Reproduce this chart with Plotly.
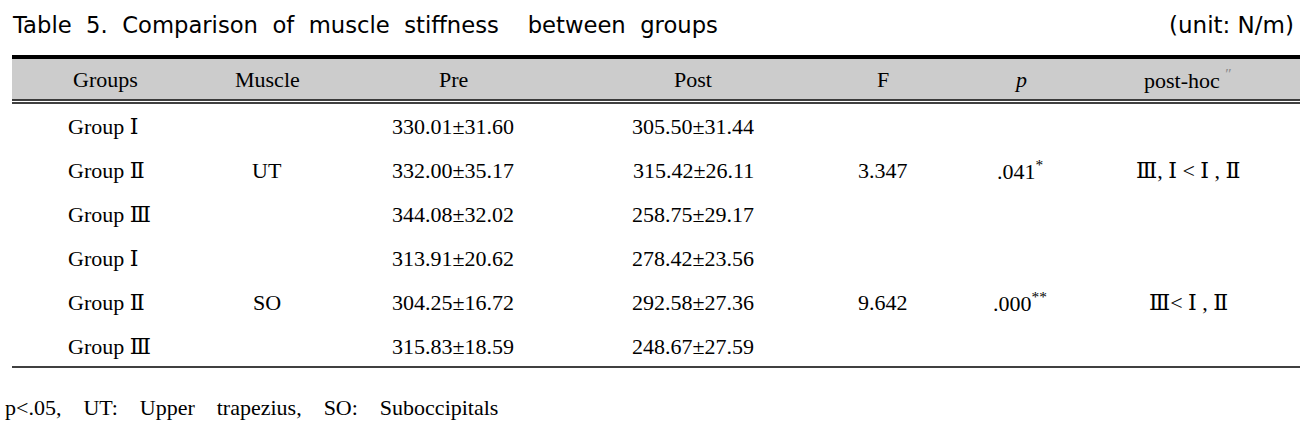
import plotly.graph_objects as go

# ---------------- data ----------------
groups = ["Group Ⅰ", "Group Ⅱ", "Group Ⅲ", "Group Ⅰ", "Group Ⅱ", "Group Ⅲ"]
muscles = ["UT", "SO"]
pre_mean = [330.01, 332.00, 344.08, 313.91, 304.25, 315.83]
pre_sd = [31.60, 35.17, 32.02, 20.62, 16.72, 18.59]
post_mean = [305.50, 315.42, 258.75, 278.42, 292.58, 248.67]
post_sd = [31.44, 26.11, 29.17, 23.56, 27.36, 27.59]
f_values = ["3.347", "9.642"]
p_values = [".041", ".000"]
p_marks = ["*", "**"]
posthoc = ["Ⅲ, Ⅰ &lt; Ⅰ , Ⅱ", "Ⅲ&lt; Ⅰ , Ⅱ"]
headers = ["Groups", "Muscle", "Pre", "Post", "F", "<i>p</i>",
           "post-hoc <span style='color:#888888'><sup>″</sup></span>"]
title_text = "Table 5. Comparison of muscle stiffness  between groups"
unit_text = "(unit: N/m)"
note_text = "p&lt;.05, UT: Upper trapezius, SO: Suboccipitals"

# ---------------- layout constants (page pixels) ----------------
W, H = 1311, 428
col_x = [105, 267, 453, 693, 883, 1020, 1188]      # column centres
group_left = 66
row0_px, row_step = 126, 44                        # row 0 centre and spacing
header_px = 79

SERIF = "Liberation Serif, DejaVu Serif, Times New Roman, serif"
SANS = "DejaVu Sans, sans-serif"
FS = 22


def px_to_row(p):
    return (p - row0_px) / row_step


fig = go.Figure()
fig.add_trace(go.Scatter(x=[0, W], y=[0, 0], mode="markers",
                         marker=dict(opacity=0), hoverinfo="skip", showlegend=False))

# table rules
L, R = 12, 1300
fig.add_shape(type="rect", xref="x", yref="y", x0=L, x1=R,
              y0=px_to_row(58), y1=px_to_row(99.5), fillcolor="#cccccc",
              line_width=0, layer="below")
for ypx, w in [(57, 4), (100, 1.5), (103, 1.5), (367, 1.5)]:
    fig.add_shape(type="line", xref="x", yref="y", x0=L, x1=R,
                  y0=px_to_row(ypx), y1=px_to_row(ypx), line=dict(color="black", width=w))


def txt(x, y, s, anchor="center", font=SERIF, size=FS):
    fig.add_annotation(x=x, y=y, xref="x", yref="y", text=s, showarrow=False,
                       xanchor=anchor, yanchor="middle",
                       font=dict(family=font, size=size, color="black"))


for cx, h in zip(col_x, headers):
    txt(cx, px_to_row(header_px), h)

for i in range(len(groups)):
    txt(group_left, i, groups[i], anchor="left")
    txt(col_x[2], i, f"{pre_mean[i]:.2f}±{pre_sd[i]:.2f}")
    txt(col_x[3], i, f"{post_mean[i]:.2f}±{post_sd[i]:.2f}")

for k in range(len(muscles)):
    mid = 3 * k + 1
    txt(col_x[1], mid, muscles[k])
    txt(col_x[4], mid, f_values[k])
    txt(col_x[5], mid, f"{p_values[k]}<sup>{p_marks[k]}</sup>")
    txt(col_x[6], mid, posthoc[k])

txt(10, px_to_row(25), title_text.replace(" ", "\u00a0\u00a0"), anchor="left", font=SANS, size=22.7)
txt(1296, px_to_row(25), unit_text, anchor="right", font=SANS, size=23)
txt(3, px_to_row(407), note_text.replace(" ", "\u00a0" * 4), anchor="left")

fig.update_xaxes(range=[0, W], visible=False, fixedrange=True)
fig.update_yaxes(range=[px_to_row(H), px_to_row(0)], visible=False, fixedrange=True)
fig.update_layout(width=W, height=H, margin=dict(l=0, r=0, t=0, b=0),
                  paper_bgcolor="white", plot_bgcolor="white", showlegend=False,
                  hovermode=False)
fig.write_html("out.html", config={"displayModeBar": False, "staticPlot": True},
               post_script="document.body.style.margin='0';document.body.style.padding='0';")
